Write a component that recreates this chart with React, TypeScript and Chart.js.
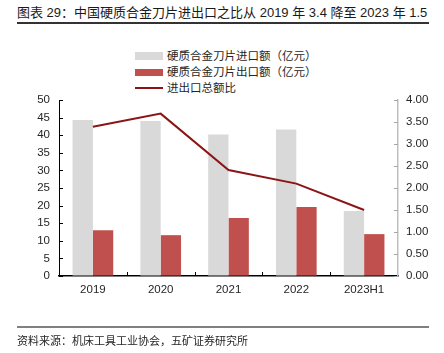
import React, { useEffect, useRef } from "react";
import { Chart, registerables } from "chart.js";

Chart.register(...registerables);

const categories = ["2019", "2020", "2021", "2022", "2023H1"];
const importValues = [44.3, 44.0, 40.2, 41.6, 18.5];
const exportValues = [13.0, 11.6, 16.5, 19.6, 11.9];
const ratioValues = [3.39, 3.69, 2.41, 2.1, 1.5];
const seriesNames = ["硬质合金刀片进口额（亿元）", "硬质合金刀片出口额（亿元）", "进出口总额比"];
const titleText = "图表 29：中国硬质合金刀片进出口之比从 2019 年 3.4 降至 2023 年 1.5";
const sourceText = "资料来源：机床工具工业协会，五矿证券研究所";

const FONT = "'Liberation Sans', 'Noto Sans CJK SC', sans-serif";
const GRAY = "#D9D9D9";
const RED = "#C0504D";
const DARK_RED = "#8B1414";
const TEXT = "#262626";

const innerTicks = {
  id: "innerTicks",
  afterDraw(chart: any) {
    const { ctx, chartArea, scales } = chart;
    ctx.save();
    ctx.lineWidth = 1;
    // left axis ticks
    ctx.strokeStyle = "#000";
    scales.y.ticks.forEach((t: any) => {
      const py = Math.round(scales.y.getPixelForValue(t.value)) + 0.5;
      ctx.beginPath();
      ctx.moveTo(chartArea.left, py);
      ctx.lineTo(chartArea.left + 4, py);
      ctx.stroke();
    });
    // right axis ticks
    ctx.strokeStyle = "#A6A6A6";
    scales.y1.ticks.forEach((t: any) => {
      const py = Math.round(scales.y1.getPixelForValue(t.value)) + 0.5;
      ctx.beginPath();
      ctx.moveTo(chartArea.right - 4, py);
      ctx.lineTo(chartArea.right, py);
      ctx.stroke();
    });
    // x axis ticks at category boundaries
    ctx.strokeStyle = "#000";
    for (let i = 0; i < categories.length - 1; i++) {
      const px = Math.round((scales.x.getPixelForTick(i) + scales.x.getPixelForTick(i + 1)) / 2) + 0.5;
      ctx.beginPath();
      ctx.moveTo(px, chartArea.bottom);
      ctx.lineTo(px, chartArea.bottom - 4);
      ctx.stroke();
    }
    ctx.restore();
  },
};

export default function App() {
  const ref = useRef<HTMLCanvasElement | null>(null);

  useEffect(() => {
    if (!ref.current) return;
    const chart = new Chart(ref.current, {
      type: "bar",
      data: {
        labels: categories,
        datasets: [
          {
            type: "line",
            label: seriesNames[2],
            data: ratioValues,
            yAxisID: "y1",
            borderColor: DARK_RED,
            backgroundColor: DARK_RED,
            borderWidth: 2,
            pointRadius: 0,
            tension: 0,
            order: 0,
          } as any,
          {
            label: seriesNames[0],
            data: importValues,
            yAxisID: "y",
            backgroundColor: GRAY,
            categoryPercentage: 0.6,
            barPercentage: 1,
            order: 1,
          },
          {
            label: seriesNames[1],
            data: exportValues,
            yAxisID: "y",
            backgroundColor: RED,
            categoryPercentage: 0.6,
            barPercentage: 1,
            order: 1,
          },
        ],
      },
      options: {
        animation: false,
        responsive: false,
        maintainAspectRatio: false,
        layout: { padding: { top: 100, left: 0, right: 0, bottom: 47 } },
        plugins: {
          legend: { display: false },
          tooltip: { enabled: false },
          title: { display: false },
        },
        scales: {
          x: {
            offset: true,
            grid: { display: true, drawOnChartArea: false, drawTicks: false },
            border: { display: true, color: "#000", width: 1.5 },
            ticks: { color: TEXT, font: { family: FONT, size: 11.5 }, padding: 7 },
            afterFit: (s: any) => {
              s.height = 30;
            },
          },
          y: {
            position: "left",
            min: 0,
            max: 50,
            ticks: { stepSize: 5, color: TEXT, font: { family: FONT, size: 11.5 }, padding: 9 },
            grid: { display: true, drawOnChartArea: false, drawTicks: false },
            border: { display: true, color: "#000", width: 1 },
            afterFit: (s: any) => {
              s.width = 59;
            },
          },
          y1: {
            position: "right",
            min: 0,
            max: 4,
            ticks: {
              stepSize: 0.5,
              color: TEXT,
              font: { family: FONT, size: 11.5 },
              padding: 8,
              callback: (v: any) => Number(v).toFixed(2),
            },
            grid: { display: true, drawOnChartArea: false, drawTicks: false },
            border: { display: true, color: "#BFBFBF", width: 1.5 },
            afterFit: (s: any) => {
              s.width = 46;
            },
          },
        },
      },
      plugins: [innerTicks],
    });
    return () => chart.destroy();
  }, []);

  const legendRows = [
    { name: seriesNames[0], color: GRAY, h: 8 },
    { name: seriesNames[1], color: RED, h: 7 },
    { name: seriesNames[2], color: DARK_RED, h: 2 },
  ];

  return (
    <div
      style={{
        position: "absolute",
        left: 0,
        top: 0,
        width: 444,
        height: 353,
        background: "#fff",
        fontFamily: FONT,
        color: TEXT,
        overflow: "hidden",
      }}
    >
      <div style={{ position: "absolute", left: 17, top: 5, fontSize: 13, lineHeight: "16px", whiteSpace: "nowrap", color: "#1a1a1a" }}>
        {titleText}
      </div>
      <div style={{ position: "absolute", left: 17, top: 22, width: 412, height: 2, background: "#333" }} />
      {legendRows.map((r, i) => (
        <div key={i} style={{ position: "absolute", left: 135, top: 48 + i * 16, height: 16, width: 300 }}>
          <div
            style={{
              position: "absolute",
              left: 0,
              top: 8 - r.h / 2,
              width: 28,
              height: r.h,
              background: r.color,
            }}
          />
          <div style={{ position: "absolute", left: 32, top: 0, fontSize: 11.5, lineHeight: "16px", whiteSpace: "nowrap" }}>
            {r.name}
          </div>
        </div>
      ))}
      <canvas ref={ref} width={444} height={353} style={{ position: "absolute", left: 0, top: 0, width: 444, height: 353 }} />
      <div style={{ position: "absolute", left: 17, top: 326, width: 412, height: 2, background: "#808080" }} />
      <div style={{ position: "absolute", left: 17, top: 334, fontSize: 11, lineHeight: "14px", whiteSpace: "nowrap" }}>
        {sourceText}
      </div>
    </div>
  );
}
